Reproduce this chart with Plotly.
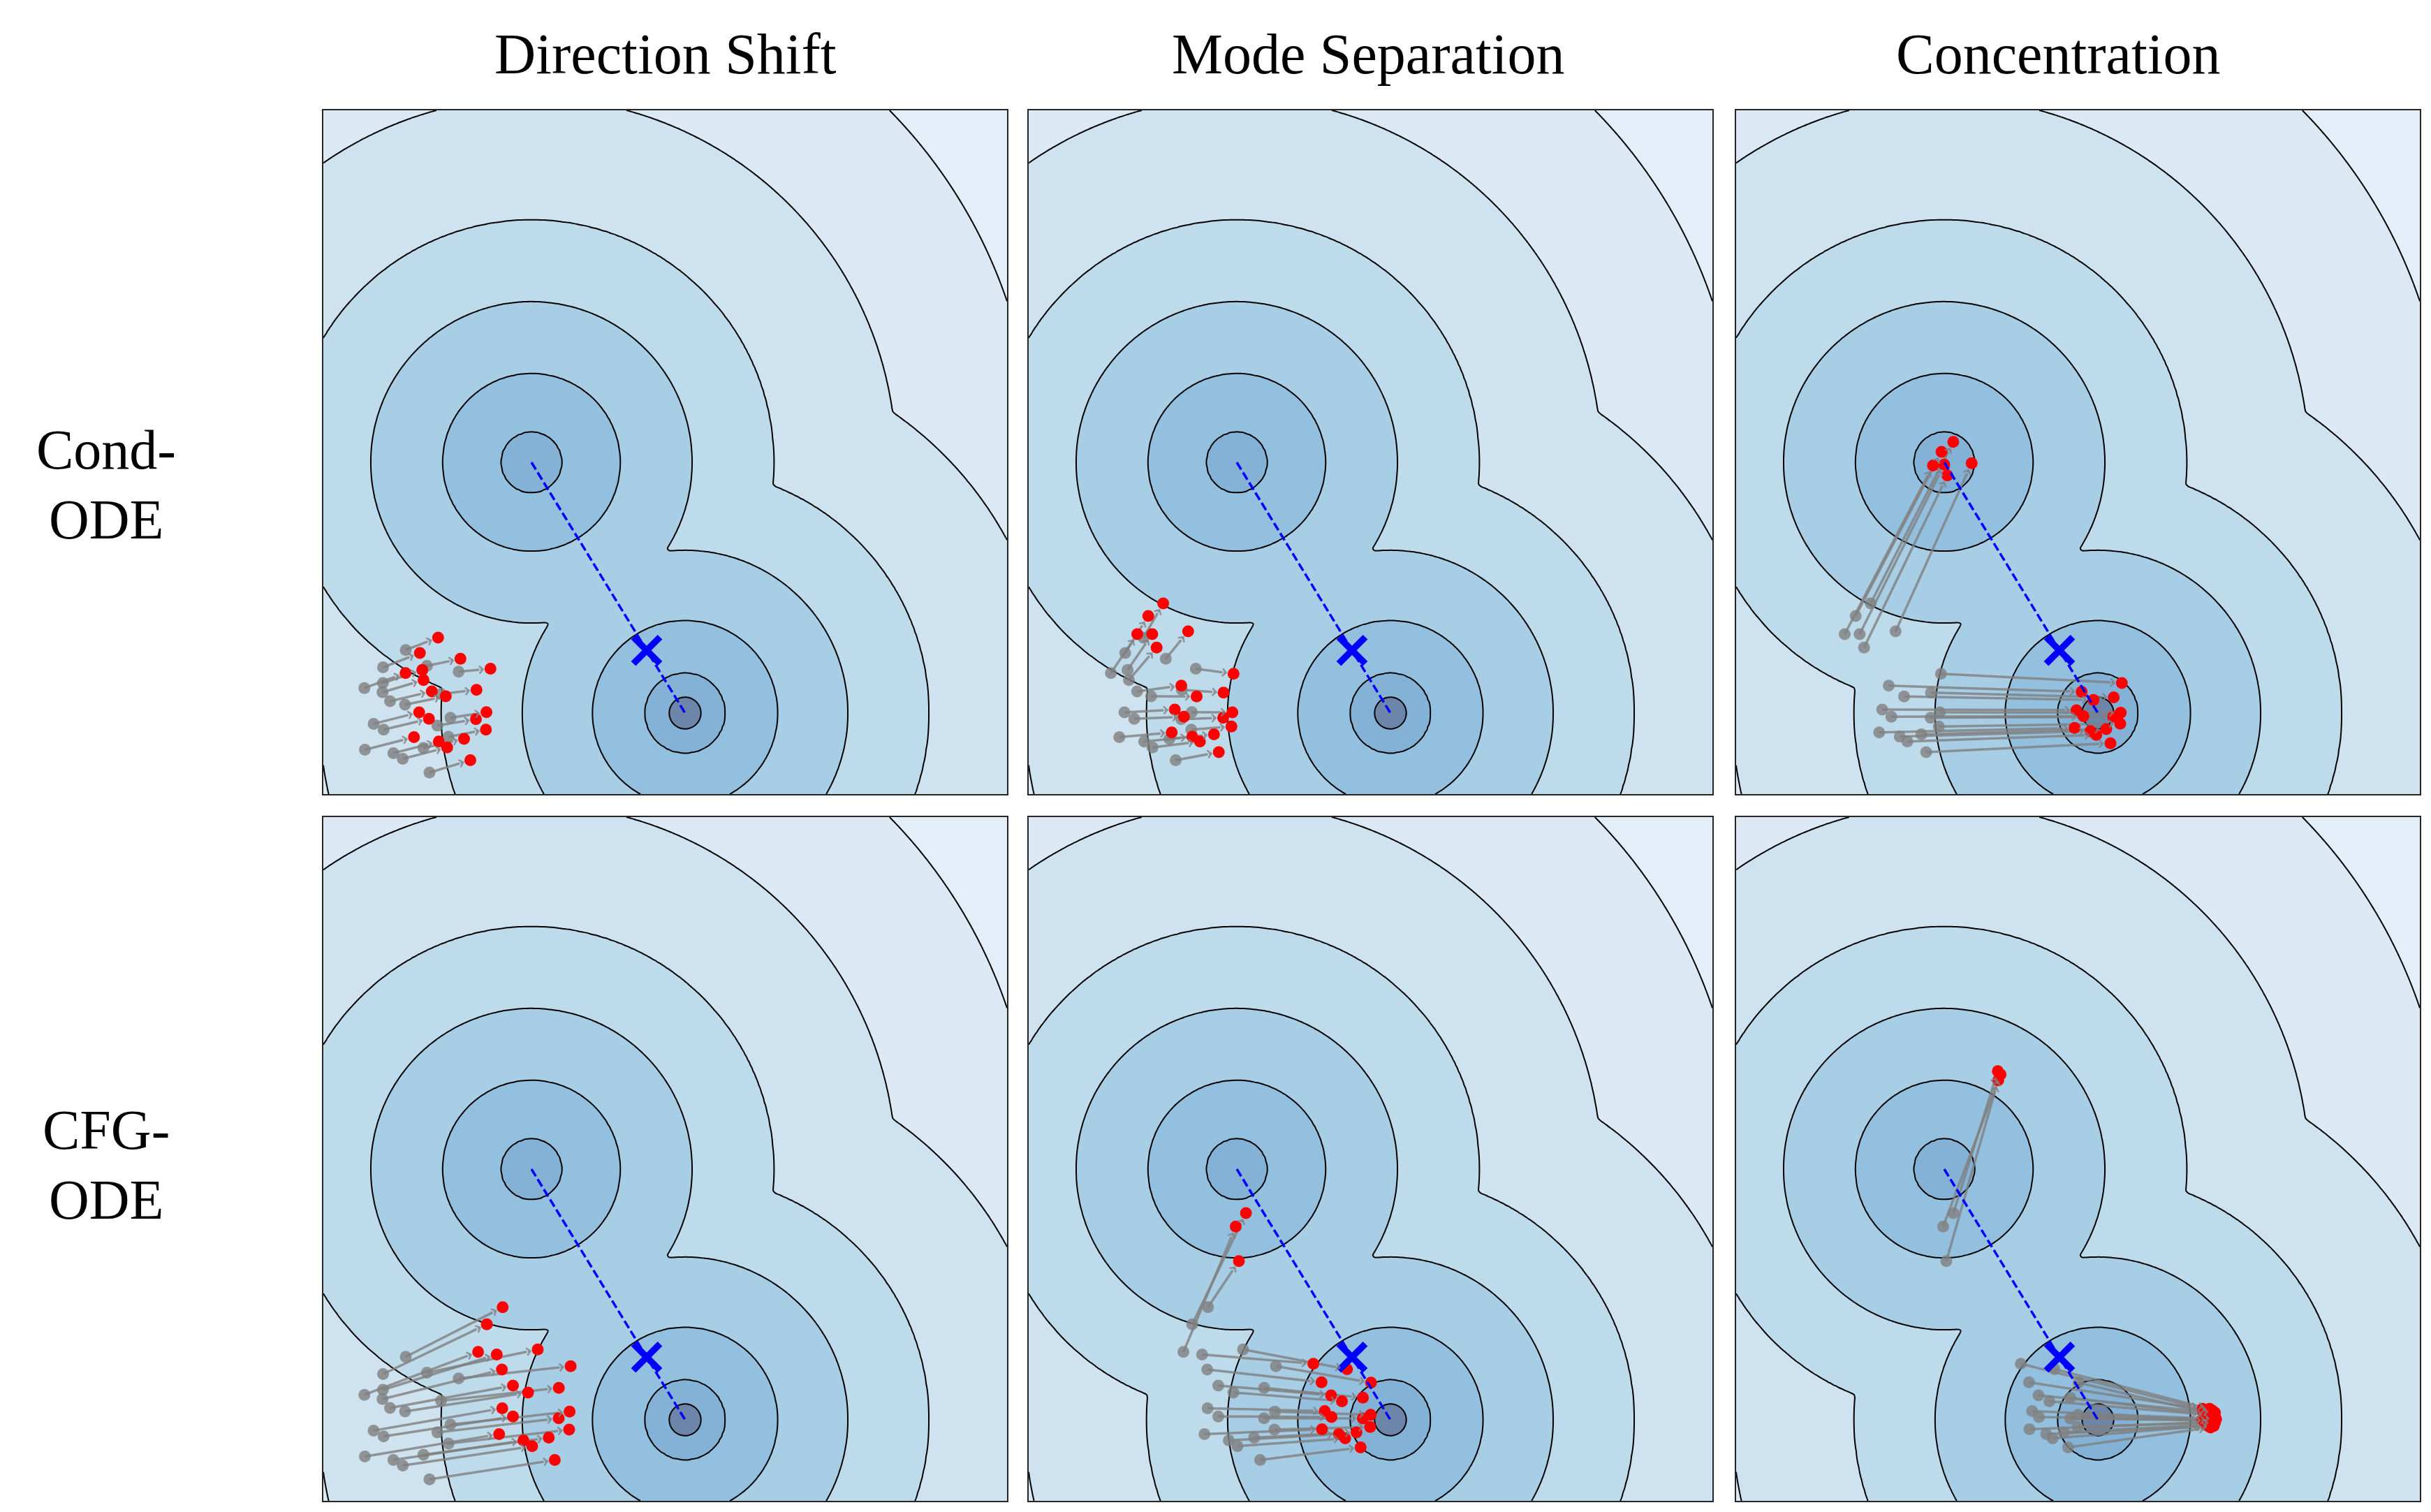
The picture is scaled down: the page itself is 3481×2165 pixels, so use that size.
import numpy as np
import plotly.graph_objects as go

# ---------------- layout numbers (pixels of the 3481 x 2165 page) ----------------
PAGE_W, PAGE_H = 3481, 2165
BODY_MARGIN = 8                      # default margin of the html body
FIG_W, FIG_H = PAGE_W - 2 * BODY_MARGIN, PAGE_H - 2 * BODY_MARGIN
PANEL = 979
COL_LEFT = [463, 1473, 2486]
ROW_TOP = [158, 1170]

COL_TITLES = ["Direction Shift", "Mode Separation", "Concentration"]
COL_TITLE_X = [953, 1959, 2947]
COL_TITLE_Y = 77
ROW_LABEL_LINES = [["Cond-", "ODE"], ["CFG-", "ODE"]]
ROW_LABEL_X = 152
ROW_LABEL_Y = [[644, 744], [1618, 1718]]

# ---------------- density background (two-mode Gaussian mixture) ----------------
MODE_UPPER = [298.0, 475.0]
MODE_LOWER = [518.0, 116.0]
MODE_WEIGHTS = [0.2, 0.8]
MODE_SIGMA = 22.4
UPPER_RING_RADII = [43, 127, 230, 347, 522, 719]
LOWER_INNER_RADIUS = 22.7
FILL_COLORS = ["#e3eef8", "#dce9f4", "#cfe2ef", "#bedbeb",
               "#a8cee5", "#93c0df", "#83b2d6", "#6c85a8"]
X_MARK_T = 0.75

# ---------------- sample trajectories (20 samples, 3 stages) ----------------
START_X = [118.0, 85.5, 148.3, 193.7, 58.8, 85.3, 84.7, 95.5, 117.0, 168.5,
           72.0, 86.3, 163.3, 182.0, 59.5, 100.3, 113.7, 143.3, 179.2, 152.0]
START_Y = [206.3, 181.5, 183.5, 175.3, 151.8, 159.0, 145.8, 133.0, 128.0, 143.2,
           100.6, 92.3, 98.0, 109.2, 63.5, 58.6, 50.5, 66.0, 82.0, 30.8]

COND_1_X = [164.3, 138.2, 196.3, 239.3, 117.7, 141.7, 143.5, 155.3, 175.3, 219.3,
            137.2, 151.2, 218.5, 233.5, 129.8, 165.3, 177.3, 201.5, 232.8, 210.5]
COND_1_Y = [224.0, 202.0, 193.7, 179.5, 173.2, 177.7, 163.3, 147.0, 140.0, 149.3,
            117.0, 107.7, 107.3, 117.2, 81.5, 75.2, 66.8, 79.0, 92.3, 48.5]
COND_2_X = [192.6, 171.2, 228.3, 293.3, 155.5, 176.9, 183.2, 218.5, 240.5, 279.0,
            209.2, 222.3, 278.5, 291.7, 204.8, 234.3, 245.2, 265.3, 290.3, 272.2]
COND_2_Y = [273.0, 255.0, 233.0, 172.2, 229.0, 229.0, 209.7, 155.2, 139.7, 145.2,
            121.0, 110.7, 109.3, 117.0, 88.3, 82.2, 75.2, 85.5, 96.7, 60.0]
COND_3_X = [310.9, 294.1, 337.3, 552.3, 281.9, 298.0, 302.5, 494.7, 511.7, 540.7,
            487.3, 497.3, 540.0, 550.7, 484.7, 507.3, 515.7, 530.0, 550.0, 536.0]
COND_3_Y = [504.3, 490.0, 473.8, 159.1, 470.5, 471.8, 456.2, 146.4, 134.7, 138.4,
            120.1, 111.4, 110.7, 116.4, 94.7, 90.1, 84.7, 93.1, 100.7, 72.7]

CFG_1_X = [256.8, 234.1, 307.0, 354.1, 221.6, 248.3, 255.7, 271.5, 293.1, 337.2,
           256.2, 271.5, 337.0, 352.6, 251.7, 286.5, 299.0, 322.8, 352.0, 331.4]
CFG_1_Y = [277.2, 252.8, 216.7, 192.7, 213.2, 209.5, 188.0, 165.1, 155.1, 161.8,
           132.6, 120.8, 118.2, 127.7, 95.5, 86.5, 78.2, 90.4, 101.9, 58.4]
CFG_2_X = [301.0, 311.1, 455.8, 490.2, 296.5, 407.6, 419.3, 433.0, 448.6, 478.5,
           423.9, 433.6, 478.5, 489.6, 420.0, 444.1, 453.2, 469.4, 488.9, 475.3]
CFG_2_Y = [343.3, 411.9, 188.6, 169.2, 392.8, 196.3, 169.8, 151.0, 142.6, 147.8,
           128.4, 120.0, 118.0, 123.2, 102.5, 95.4, 89.5, 98.0, 105.7, 76.6]
CFG_3_X = [375.3, 374.7, 678.0, 669.0, 378.6, 668.0, 682.3, 685.7, 676.7, 670.7,
           687.3, 681.3, 674.7, 667.3, 670.7, 684.0, 675.7, 672.7, 685.7, 679.3]
CFG_3_Y = [602.2, 615.2, 131.7, 127.3, 610.6, 131.7, 129.0, 126.3, 123.0, 124.0,
           117.3, 115.7, 115.0, 116.3, 112.3, 107.3, 107.3, 109.0, 112.3, 105.0]

ROW_STAGES = [
    [(START_X, START_Y), (COND_1_X, COND_1_Y), (COND_2_X, COND_2_Y), (COND_3_X, COND_3_Y)],
    [(START_X, START_Y), (CFG_1_X, CFG_1_Y), (CFG_2_X, CFG_2_Y), (CFG_3_X, CFG_3_Y)],
]

ARROW_COLOR = "rgba(128,128,128,0.8)"
HEAD_PART = 16  # px of the arrow drawn together with its head


def fx(px):
    return (px - BODY_MARGIN) / FIG_W


def fy(py):
    return 1 - (py - BODY_MARGIN) / FIG_H


# ---------------- density field ----------------
T = 2 * MODE_SIGMA ** 2
log_ratio = np.log(MODE_WEIGHTS[1] / MODE_WEIGHTS[0])
delta = T * log_ratio
grid = np.linspace(0, PANEL, 246)
GX, GY = np.meshgrid(grid, grid)
da = (GX - MODE_UPPER[0]) ** 2 + (GY - MODE_UPPER[1]) ** 2
db = (GX - MODE_LOWER[0]) ** 2 + (GY - MODE_LOWER[1]) ** 2
nlp = -T * np.logaddexp(-da / T, -db / T + log_ratio)   # scaled negative log density
u = np.sqrt(np.maximum(nlp + delta, 0.0))
u_levels = [LOWER_INNER_RADIUS] + [float(np.sqrt(r * r + delta)) for r in UPPER_RING_RADII]
nlev = len(u_levels)
xp = [0.0] + u_levels + [u_levels[-1] + 4000.0]
fp = ([nlev + u_levels[0] / (u_levels[1] - u_levels[0])] + list(range(nlev, 0, -1))
      + [1 - 4000.0 / (u_levels[-1] - u_levels[-2])])
Z = np.clip(np.interp(u, xp, fp), 0.05, nlev + 0.95).astype(np.float32)

colorscale = []
nc = len(FILL_COLORS)
for k, c in enumerate(FILL_COLORS):
    colorscale.append([k / nc, c])
    colorscale.append([(k + 1) / nc, c])

fig = go.Figure()
annotations = []
layout_axes = {}

for r in range(2):
    for c in range(3):
        idx = r * 3 + c + 1
        xa = "x" if idx == 1 else f"x{idx}"
        ya = "y" if idx == 1 else f"y{idx}"
        left = COL_LEFT[c]
        top = ROW_TOP[r]
        layout_axes["xaxis" if idx == 1 else f"xaxis{idx}"] = dict(
            domain=[fx(left), fx(left + PANEL)], range=[0, PANEL],
            anchor=ya, showgrid=False, zeroline=False, showticklabels=False, ticks="",
            showline=True, mirror=True, linecolor="#262626", linewidth=2)
        layout_axes["yaxis" if idx == 1 else f"yaxis{idx}"] = dict(
            domain=[fy(top + PANEL), fy(top)], range=[0, PANEL],
            anchor=xa, showgrid=False, zeroline=False, showticklabels=False, ticks="",
            showline=True, mirror=True, linecolor="#262626", linewidth=2)

        fig.add_trace(go.Contour(
            x=grid, y=grid, z=Z, autocontour=False,
            contours=dict(start=1, end=nlev, size=1, coloring="fill", showlines=True),
            line=dict(color="black", width=2),
            colorscale=colorscale, zmin=0, zmax=nc, showscale=False,
            hoverinfo="skip", xaxis=xa, yaxis=ya))

        sx, sy = ROW_STAGES[r][c]
        ex, ey = ROW_STAGES[r][c + 1]
        shaft_x, shaft_y = [], []
        for i in range(len(sx)):
            vx, vy = ex[i] - sx[i], ey[i] - sy[i]
            length = float(np.hypot(vx, vy))
            frac = max(length - HEAD_PART, 0.0) / length
            shaft_x += [sx[i], sx[i] + vx * frac, None]
            shaft_y += [sy[i], sy[i] + vy * frac, None]
            annotations.append(dict(
                x=ex[i], y=ey[i], ax=sx[i], ay=sy[i], xref=xa, yref=ya, axref=xa, ayref=ya,
                text="", showarrow=True, arrowhead=4, arrowsize=0.6, arrowwidth=3.5,
                arrowcolor=ARROW_COLOR, standoff=9, startstandoff=max(length - HEAD_PART, 0.0)))
        fig.add_trace(go.Scatter(x=shaft_x, y=shaft_y, mode="lines",
                                 line=dict(color=ARROW_COLOR, width=3.5),
                                 hoverinfo="skip", showlegend=False, xaxis=xa, yaxis=ya))
        fig.add_trace(go.Scatter(x=sx, y=sy, mode="markers",
                                 marker=dict(size=17, color=ARROW_COLOR, line=dict(width=0)),
                                 hoverinfo="skip", showlegend=False, xaxis=xa, yaxis=ya))
        fig.add_trace(go.Scatter(x=ex, y=ey, mode="markers",
                                 marker=dict(size=17, color="#ff0000", line=dict(width=0)),
                                 hoverinfo="skip", showlegend=False, xaxis=xa, yaxis=ya))
        fig.add_trace(go.Scatter(x=[MODE_UPPER[0], MODE_LOWER[0]], y=[MODE_UPPER[1], MODE_LOWER[1]],
                                 mode="lines", line=dict(color="#0000ff", width=3.5, dash="12px,5px"),
                                 hoverinfo="skip", showlegend=False, xaxis=xa, yaxis=ya))
        mx = MODE_UPPER[0] + X_MARK_T * (MODE_LOWER[0] - MODE_UPPER[0])
        my = MODE_UPPER[1] + X_MARK_T * (MODE_LOWER[1] - MODE_UPPER[1])
        fig.add_trace(go.Scatter(x=[mx], y=[my], mode="markers",
                                 marker=dict(symbol="x-thin", size=38, color="#0000ff",
                                             line=dict(width=9.5, color="#0000ff")),
                                 hoverinfo="skip", showlegend=False, xaxis=xa, yaxis=ya))

TITLE_FONT = dict(family="Liberation Serif, Times New Roman, serif", size=82, color="black")
LABEL_FONT = dict(family="Liberation Serif, Times New Roman, serif", size=80, color="black")
for t, px in zip(COL_TITLES, COL_TITLE_X):
    annotations.append(dict(text=t, x=fx(px), y=fy(COL_TITLE_Y), xref="paper", yref="paper",
                            xanchor="center", yanchor="middle", showarrow=False, font=TITLE_FONT))
for lines, ys in zip(ROW_LABEL_LINES, ROW_LABEL_Y):
    for t, py in zip(lines, ys):
        annotations.append(dict(text=t, x=fx(ROW_LABEL_X), y=fy(py), xref="paper",
                                yref="paper", xanchor="center", yanchor="middle", showarrow=False,
                                font=LABEL_FONT))

fig.update_layout(width=FIG_W, height=FIG_H, margin=dict(l=0, r=0, t=0, b=0),
                  paper_bgcolor="white", plot_bgcolor="white", showlegend=False,
                  annotations=annotations, **layout_axes)
fig.write_html("out.html")
